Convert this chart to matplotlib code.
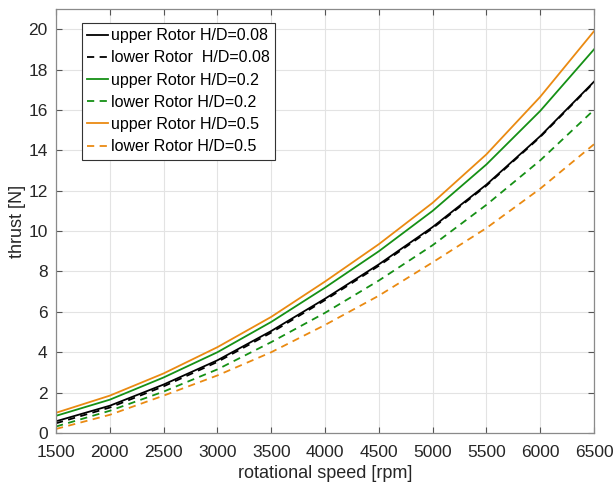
import numpy as np
from matplotlib import pyplot as plt

plt.rcParams['font.family'] = ['Liberation Sans', 'DejaVu Sans']

# rotational speed [rpm]
rpm = [1500, 2000, 2500, 3000, 3500, 4000, 4500, 5000, 5500, 6000, 6500]

# thrust [N]
upper_008 = [0.58, 1.35, 2.40, 3.60, 5.05, 6.65, 8.35, 10.20, 12.30, 14.70, 17.40]
lower_008 = [0.48, 1.26, 2.31, 3.52, 4.97, 6.58, 8.28, 10.14, 12.25, 14.66, 17.36]
upper_02 = [0.85, 1.65, 2.75, 4.00, 5.50, 7.20, 9.00, 11.00, 13.30, 15.95, 19.00]
lower_02 = [0.32, 1.10, 2.05, 3.15, 4.50, 5.95, 7.55, 9.30, 11.30, 13.50, 16.00]
upper_05 = [1.00, 1.85, 2.95, 4.25, 5.75, 7.50, 9.35, 11.40, 13.80, 16.65, 19.90]
lower_05 = [0.20, 0.90, 1.85, 2.85, 4.00, 5.35, 6.80, 8.45, 10.15, 12.10, 14.30]

labels = ['upper Rotor H/D=0.08', 'lower Rotor  H/D=0.08',
          'upper Rotor H/D=0.2', 'lower Rotor H/D=0.2',
          'upper Rotor H/D=0.5', 'lower Rotor H/D=0.5']

green = '#159015'
orange = '#EA8A12'
dash = (0, (4, 3))

fig = plt.figure(figsize=(6.14, 4.87), dpi=100)
ax = fig.add_axes([0.0912, 0.1109, 0.8762, 0.8706])

ax.plot(rpm, upper_008, color='k', lw=1.3, label=labels[0])
ax.plot(rpm, lower_008, color='k', lw=1.3, ls=dash, label=labels[1])
ax.plot(rpm, upper_02, color=green, lw=1.3, label=labels[2])
ax.plot(rpm, lower_02, color=green, lw=1.3, ls=dash, label=labels[3])
ax.plot(rpm, upper_05, color=orange, lw=1.3, label=labels[4])
ax.plot(rpm, lower_05, color=orange, lw=1.3, ls=dash, label=labels[5])

ax.set_xlim(1500, 6500)
ax.set_ylim(0, 21)
ax.set_xticks(np.arange(1500, 6501, 500))
ax.set_yticks(np.arange(0, 21, 2))
ax.grid(True, color='#e3e3e3', lw=0.8)
ax.set_axisbelow(True)
for s in ax.spines.values():
    s.set_color('#8a8a8a')
    s.set_linewidth(0.9)
ax.tick_params(direction='in', length=4, width=0.8, color='#555555',
               top=True, right=True, labelsize=12.5, labelcolor='#262626')
ax.tick_params(axis='x', pad=9)
ax.tick_params(axis='y', pad=6)

ax.set_xlabel('rotational speed [rpm]', fontsize=13, color='#262626', labelpad=3)
ax.set_ylabel('thrust [N]', fontsize=13, color='#262626', labelpad=2)

leg = ax.legend(loc='upper left', bbox_to_anchor=(0.048, 0.968), fontsize=11.5,
                handlelength=1.3, handletextpad=0.15, labelspacing=0.45,
                borderpad=0.35, borderaxespad=0, fancybox=False, framealpha=1)
leg.get_frame().set_edgecolor('#333333')
leg.get_frame().set_linewidth(0.8)

fig.savefig('out.png', dpi=100)
